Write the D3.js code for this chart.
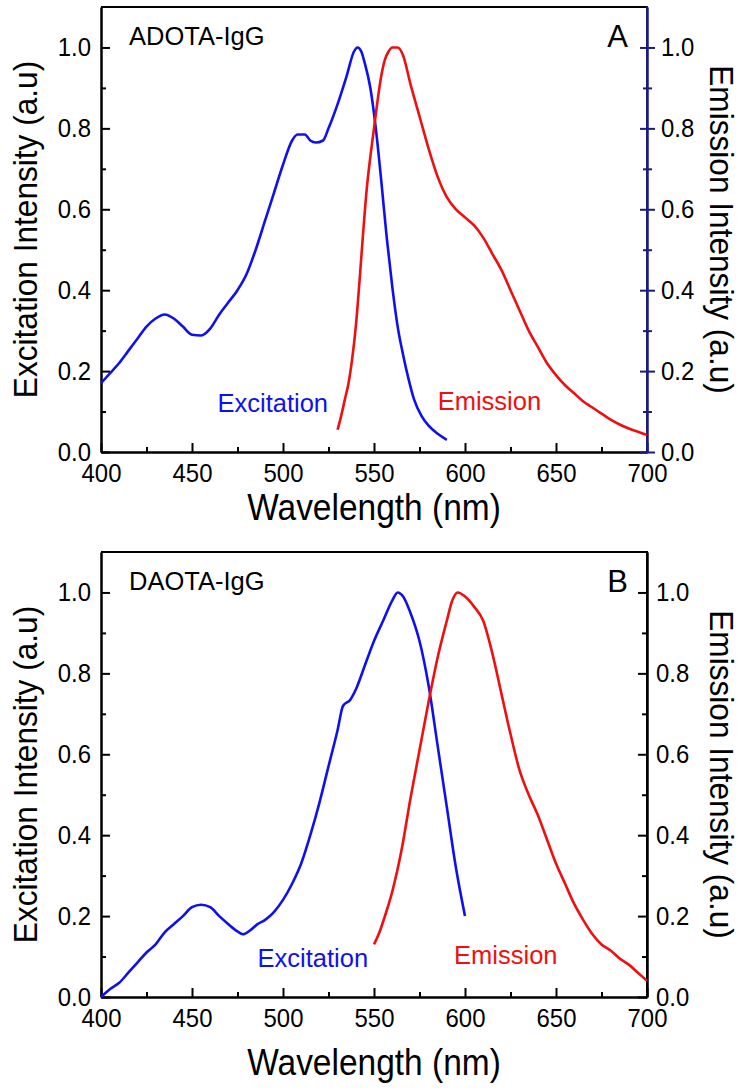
<!DOCTYPE html>
<html>
<head>
<meta charset="utf-8">
<script src="https://cdn.jsdelivr.net/npm/d3@7"></script>
<style>
  body { margin: 0; background: #fff; }
  svg { display: block; font-family: "Liberation Sans", Arial, sans-serif; }
</style>
</head>
<body>
<svg id="chart" width="743" height="1092"></svg>
<script>
// wavelength (nm), normalised intensity
const excitationA = [
  [400, 0.17], [405, 0.195], [410, 0.22], [415, 0.25], [420, 0.28], [425, 0.31], [430, 0.33], [435, 0.34],
  [440, 0.33], [445, 0.31], [450, 0.29], [455, 0.288], [460, 0.305], [465, 0.34], [470, 0.37], [475, 0.40],
  [480, 0.44], [485, 0.50], [490, 0.57], [495, 0.64], [500, 0.71], [505, 0.77], [508, 0.785], [512, 0.785],
  [515, 0.77], [518, 0.765], [522, 0.77], [525, 0.80], [530, 0.86], [535, 0.93], [539, 0.99], [541, 1.0],
  [543, 0.99], [545, 0.96], [548, 0.90], [551, 0.80], [554, 0.67], [557, 0.53], [560, 0.41], [563, 0.31],
  [566, 0.24], [569, 0.18], [572, 0.13], [576, 0.09], [580, 0.065], [585, 0.045], [590, 0.03]
]
const emissionA = [
  [530, 0.055], [532, 0.09], [534, 0.13], [536, 0.17], [538, 0.23], [540, 0.31], [542, 0.42], [544, 0.54],
  [546, 0.65], [548, 0.73], [550, 0.80], [552, 0.87], [554, 0.93], [556, 0.97], [558, 0.99], [560, 1.0],
  [563, 1.0], [566, 0.98], [570, 0.91], [575, 0.83], [580, 0.75], [585, 0.68], [590, 0.63], [595, 0.60],
  [600, 0.58], [605, 0.56], [610, 0.53], [615, 0.49], [620, 0.45], [625, 0.40], [630, 0.35], [635, 0.30],
  [640, 0.26], [645, 0.22], [650, 0.19], [655, 0.165], [660, 0.145], [665, 0.125], [670, 0.11], [675, 0.095],
  [680, 0.08], [685, 0.068], [690, 0.058], [695, 0.05], [700, 0.042]
]
const excitationB = [
  [400, 0.0], [405, 0.02], [410, 0.035], [415, 0.06], [420, 0.085], [425, 0.11], [430, 0.13], [435, 0.16],
  [440, 0.18], [445, 0.20], [450, 0.222], [455, 0.228], [460, 0.222], [465, 0.20], [470, 0.18], [475, 0.162],
  [478, 0.155], [482, 0.165], [486, 0.18], [490, 0.19], [495, 0.21], [500, 0.24], [505, 0.28], [510, 0.33],
  [515, 0.40], [520, 0.48], [525, 0.57], [530, 0.66], [533, 0.72], [537, 0.735], [540, 0.76], [545, 0.82],
  [550, 0.88], [555, 0.93], [560, 0.98], [563, 1.0], [566, 0.99], [570, 0.95], [575, 0.88], [580, 0.77],
  [585, 0.62], [590, 0.47], [595, 0.32], [600, 0.20]
]
const emissionB = [
  [550, 0.13], [553, 0.16], [556, 0.20], [560, 0.26], [565, 0.36], [570, 0.49], [575, 0.61], [580, 0.73],
  [585, 0.84], [590, 0.93], [593, 0.98], [596, 1.0], [600, 0.99], [605, 0.965], [610, 0.93], [615, 0.85],
  [620, 0.75], [625, 0.65], [630, 0.56], [635, 0.50], [640, 0.45], [645, 0.39], [650, 0.33], [655, 0.28],
  [660, 0.23], [665, 0.19], [670, 0.155], [675, 0.13], [680, 0.115], [685, 0.095], [690, 0.08], [695, 0.06],
  [700, 0.04]
]

const xTicks = [400, 450, 500, 550, 600, 650, 700]
const xMinorTicks = [425, 475, 525, 575, 625, 675]
const yTicks = [0.0, 0.2, 0.4, 0.6, 0.8, 1.0]
const yMinorTicks = [0.1, 0.3, 0.5, 0.7, 0.9]

const panels = [
  { letter: "A", name: "ADOTA-IgG", top: 7, bottom: 452, exc: excitationA, em: emissionA,
    excLabel: [464, 0.099], emLabel: [585, 0.104], rightColor: "#1a1a80", rightCross: true, titleGap: 68 },
  { letter: "B", name: "DAOTA-IgG", top: 552, bottom: 997, exc: excitationB, em: emissionB,
    excLabel: [486, 0.075], emLabel: [594, 0.082], rightColor: "#000", rightCross: false, titleGap: 78 }
]

const svg = d3.select("#chart")
const left = 101, right = 647

const x = d3.scaleLinear().domain([400, 700]).range([left, right])

panels.forEach(p => drawPanel(p))

// the original lettering is a touch narrower than Liberation Sans
function condense(sel, k) {
  sel.each(function() {
    const w = this.getComputedTextLength()
    if (w > 0) {
      this.setAttribute("textLength", w * k)
      this.setAttribute("lengthAdjust", "spacingAndGlyphs")
    }
  })
}

function styleAxis(g, color) {
  g.selectAll("path, line").attr("stroke", color).attr("stroke-width", 2)
  g.selectAll("text").attr("fill", "#000").attr("font-size", 26).attr("font-family", "Liberation Sans, Arial, sans-serif")
  condense(g.selectAll("text"), 0.92)
}

function drawPanel(p) {
  const y = d3.scaleLinear().domain([0, 1.1]).range([p.bottom, p.top])
  const g = svg.append("g")

  // top frame line
  g.append("line")
    .attr("x1", left).attr("x2", right)
    .attr("y1", p.top).attr("y2", p.top)
    .attr("stroke", "#000").attr("stroke-width", 2)

  // bottom axis
  const gx = g.append("g").attr("transform", `translate(0,${p.bottom})`)
    .call(d3.axisBottom(x).tickValues(xTicks).tickFormat(d3.format("d")).tickSize(-9).tickSizeOuter(0).tickPadding(12))
  styleAxis(gx, "#000")
  const gxm = g.append("g").attr("transform", `translate(0,${p.bottom})`)
    .call(d3.axisBottom(x).tickValues(xMinorTicks).tickFormat("").tickSize(-5).tickSizeOuter(0))
  styleAxis(gxm, "#000")

  // left axis
  const gy = g.append("g").attr("transform", `translate(${left},0)`)
    .call(d3.axisLeft(y).tickValues(yTicks).tickFormat(d3.format(".1f")).tickSize(-9).tickSizeOuter(0).tickPadding(10))
  styleAxis(gy, "#000")
  const gym = g.append("g").attr("transform", `translate(${left},0)`)
    .call(d3.axisLeft(y).tickValues(yMinorTicks).tickFormat("").tickSize(-5).tickSizeOuter(0))
  styleAxis(gym, "#000")

  // right axis
  if (p.rightCross) {
    const gr = g.append("g").attr("transform", `translate(${right},0)`)
      .call(d3.axisRight(y).tickValues(yTicks).tickFormat(d3.format(".1f")).tickSize(8).tickSizeOuter(0).tickPadding(6))
    styleAxis(gr, p.rightColor)
    gr.selectAll(".tick line").attr("x1", -7)
    const grm = g.append("g").attr("transform", `translate(${right},0)`)
      .call(d3.axisRight(y).tickValues(yMinorTicks).tickFormat("").tickSize(5).tickSizeOuter(0))
    styleAxis(grm, p.rightColor)
    grm.selectAll(".tick line").attr("x1", -4)
  } else {
    const gr = g.append("g").attr("transform", `translate(${right},0)`)
      .call(d3.axisRight(y).tickValues(yTicks).tickFormat(d3.format(".1f")).tickSize(-9).tickSizeOuter(0).tickPadding(9))
    styleAxis(gr, p.rightColor)
    const grm = g.append("g").attr("transform", `translate(${right},0)`)
      .call(d3.axisRight(y).tickValues(yMinorTicks).tickFormat("").tickSize(-5).tickSizeOuter(0))
    styleAxis(grm, p.rightColor)
  }
  // extend right axis line to full height
  g.append("line")
    .attr("x1", right).attr("x2", right)
    .attr("y1", p.top - 1).attr("y2", p.bottom)
    .attr("stroke", p.rightColor).attr("stroke-width", 2)

  const line = d3.line()
    .x(d => x(d[0]))
    .y(d => y(d[1]))
    .curve(d3.curveMonotoneX)

  g.append("path").datum(p.exc)
    .attr("d", line).attr("fill", "none")
    .attr("stroke", "#1010ee").attr("stroke-width", 2.6)
  g.append("path").datum(p.em)
    .attr("d", line).attr("fill", "none")
    .attr("stroke", "#ee1010").attr("stroke-width", 2.6)

  g.append("text")
    .attr("x", x(p.excLabel[0])).attr("y", y(p.excLabel[1]))
    .attr("font-size", 25.5).attr("fill", "#1010ee")
    .text("Excitation")
  g.append("text")
    .attr("x", x(p.emLabel[0])).attr("y", y(p.emLabel[1]))
    .attr("font-size", 25.5).attr("fill", "#ee1010")
    .text("Emission")
  g.append("text")
    .attr("x", 129).attr("y", p.top + 38)
    .attr("font-size", 25.5)
    .text(p.name)

  g.append("text")
    .attr("x", 628).attr("y", p.top + 40)
    .attr("text-anchor", "end")
    .attr("font-size", 31)
    .text(p.letter)

  const mid = (p.top + p.bottom) / 2
  const titles = g.append("g")
  titles.append("text")
    .attr("transform", `translate(37,${mid}) rotate(-90)`)
    .attr("text-anchor", "middle")
    .attr("font-size", 34)
    .text("Excitation Intensity (a.u)")
  titles.append("text")
    .attr("transform", `translate(710,${mid}) rotate(90)`)
    .attr("text-anchor", "middle")
    .attr("font-size", 34)
    .text("Emission Intensity (a.u)")
  titles.append("text")
    .attr("x", (left + right) / 2).attr("y", p.bottom + p.titleGap)
    .attr("text-anchor", "middle")
    .attr("font-size", 36)
    .text("Wavelength (nm)")
  condense(titles.selectAll("text"), 0.93)
}
</script>
</body>
</html>
